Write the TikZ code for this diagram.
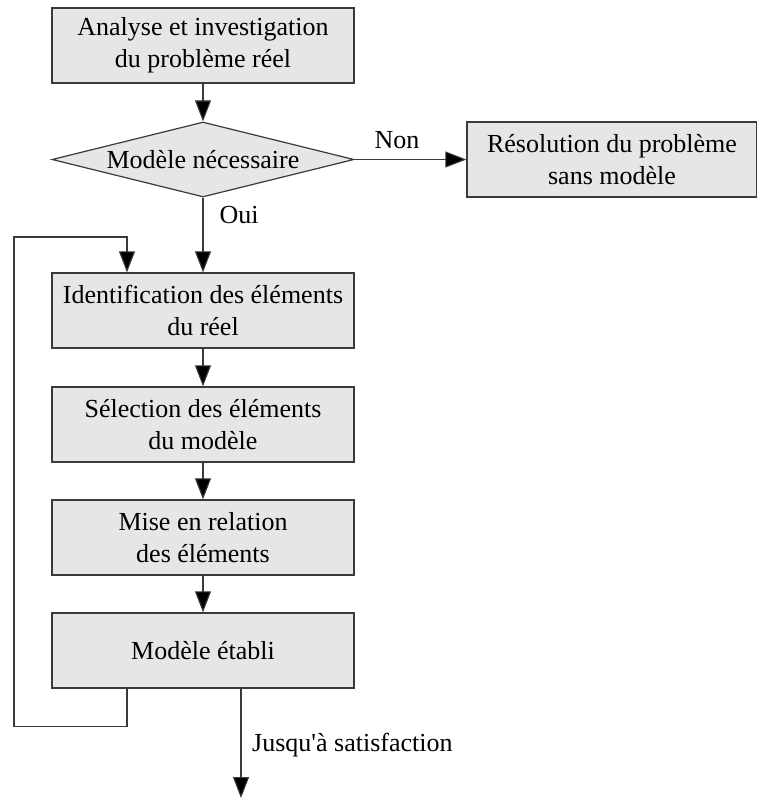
\documentclass[tikz,border=0pt]{standalone}
\usepackage{fontspec}
\setmainfont{Liberation Serif}
\newfontfamily\straightserif[Ligatures=TeXOff]{Liberation Serif}
\usetikzlibrary{shapes.geometric,arrows.meta}

\definecolor{boxfill}{HTML}{E6E6E6}
\definecolor{edge}{HTML}{3A3A3A}

\tikzset{
  stepbox/.style={draw=edge, line width=1.3pt, fill=boxfill,
    minimum width=302pt, minimum height=75pt, inner sep=0pt,
    align=center, font=\fontsize{26}{32}\selectfont},
  decision/.style={draw=edge, line width=1.2pt, fill=boxfill, diamond,
    aspect=4, inner sep=0pt, minimum width=302pt, minimum height=75pt,
    font=\fontsize{26}{32}\selectfont},
  flow/.style={draw=edge, line width=1.1pt, -{Triangle[length=21pt,width=16pt,fill=black]}},
  tag/.style={font=\fontsize{26}{32}\selectfont, inner sep=0pt}
}

\begin{document}
\begin{tikzpicture}[x=1pt, y=-1pt]
  \useasboundingbox (0,0) rectangle (757,798);

  % main column
  \node[stepbox] (analyse) at (203,45.5) {Analyse et investigation\\du problème réel};
  \node[decision] (besoin) at (203,159.5) {Modèle nécessaire};
  \node[stepbox, minimum width=290pt] (sans) at (612,159.5) {Résolution du problème\\sans modèle};
  \node[stepbox] (ident) at (203,310.5) {Identification des éléments\\du réel};
  \node[stepbox] (select) at (203,424.5) {Sélection des éléments\\du modèle};
  \node[stepbox] (relation) at (203,537.5) {Mise en relation\\des éléments};
  \node[stepbox] (etabli) at (203,650.5) {Modèle établi};

  % free ends of the loop and of the exit
  \coordinate (loopTop) at (127,237);
  \coordinate (exitEnd) at (241,798);

  % connectors
  \draw[flow] (analyse) -- (besoin);
  \draw[flow] (besoin.east) -- (sans.west);
  \draw[flow] (besoin) -- (ident);
  \draw[flow] (ident) -- (select);
  \draw[flow] (select) -- (relation);
  \draw[flow] (relation) -- (etabli);
  \draw[flow] ([xshift=-76pt]etabli.south) -- ++(0,38) -| (14,237) -- (loopTop) -- ([xshift=-76pt]ident.north);
  \draw[flow] ([xshift=38pt]etabli.south) -- (exitEnd);

  % labels
  \node[tag] (non) at (397,140) {Non};
  \node[tag] (oui) at (239,215) {Oui};
  \node[tag, anchor=west] (jusqu) at (252,745) {\straightserif Jusqu'à satisfaction};
\end{tikzpicture}
\end{document}
